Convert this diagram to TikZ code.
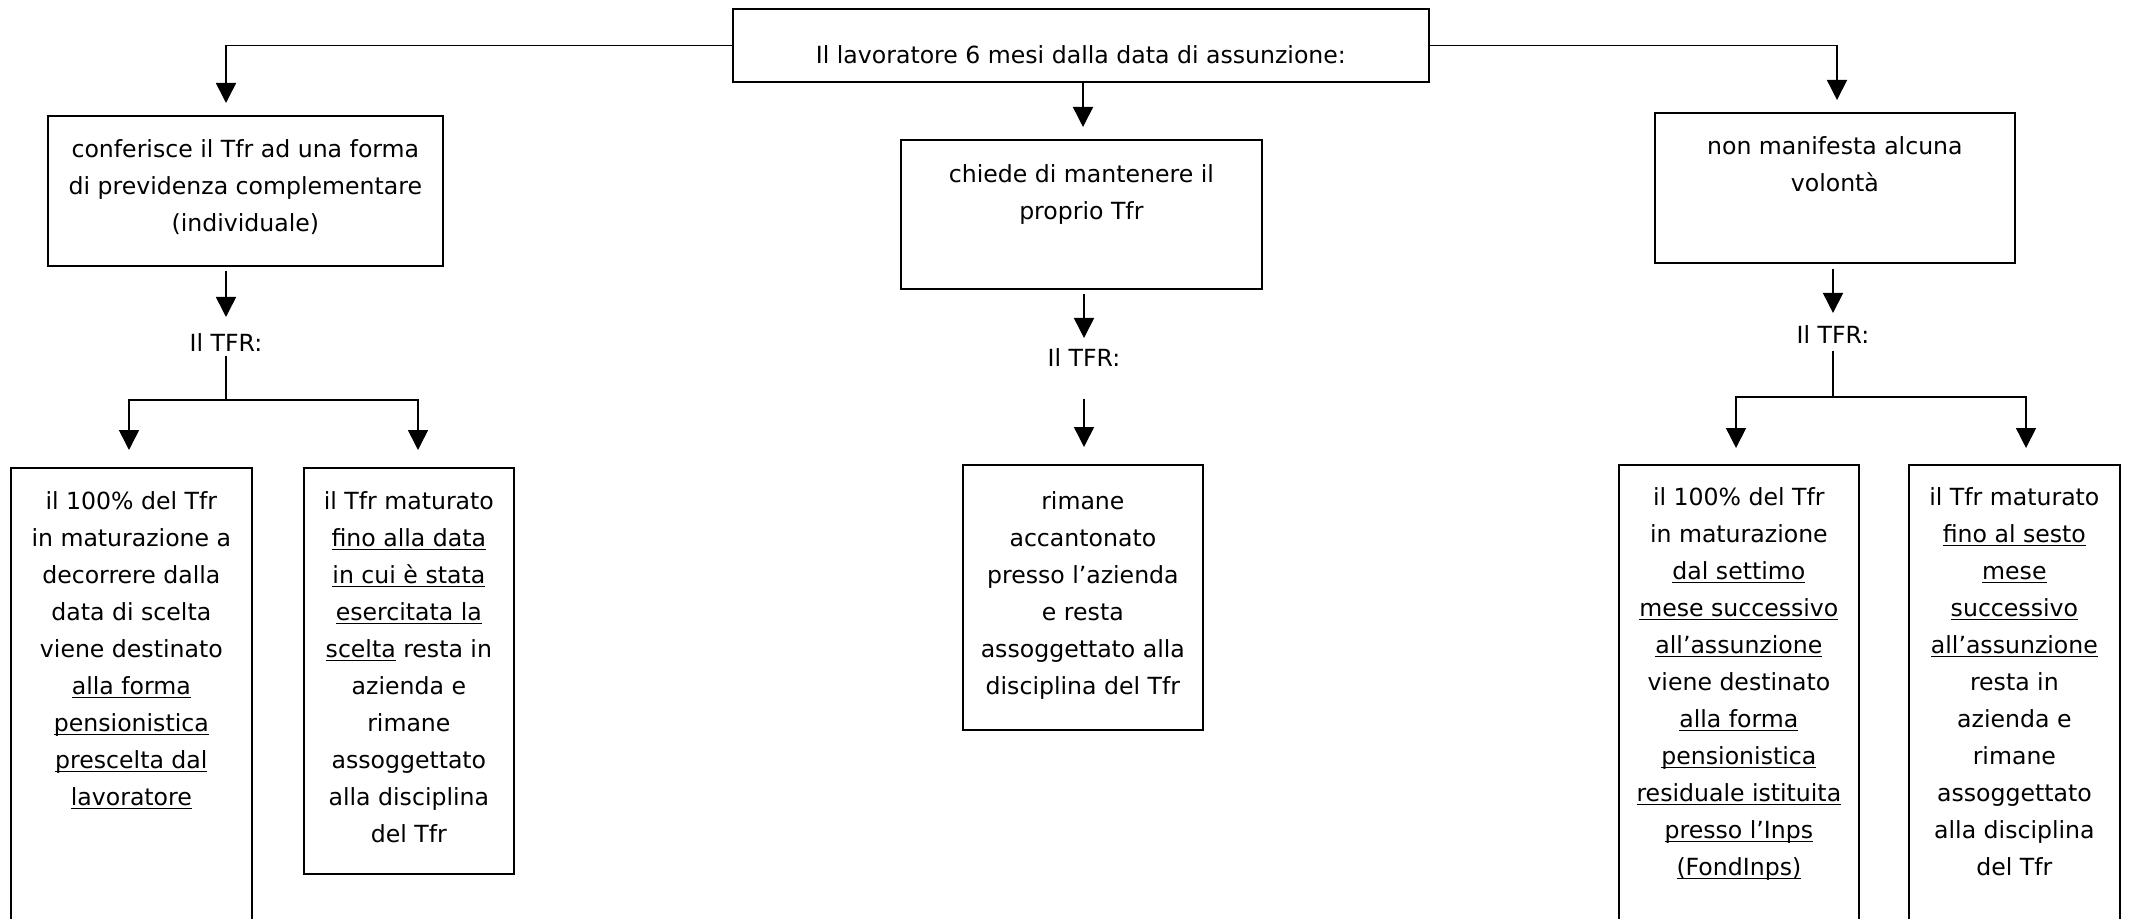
\documentclass[tikz,border=0pt]{standalone}
\usepackage{fontspec}
\setmainfont{DejaVu Sans}
\usetikzlibrary{arrows.meta}
\newcommand{\myul}[1]{\leavevmode\setbox0\hbox{#1}\rlap{\rule[-1.8pt]{\wd0}{0.65pt}}\box0\relax}
\newcommand{\mybox}[4]{\parbox[t][#2][t]{#1}{\centering\rule{0pt}{#3}#4\par}}
\tikzset{
  every node/.style={font=\fontsize{11.8}{18.5}\selectfont},
  bx/.style={draw, line width=0.85pt, inner sep=0pt, anchor=north west},
  lbl/.style={inner sep=0pt},
  arr/.style={line width=0.8pt, -{Triangle[length=10pt,width=10pt]}},
  ln/.style={line width=0.8pt}
}
\begin{document}
\begin{tikzpicture}[x=0.5pt,y=-0.5pt]
\useasboundingbox[fill=white] (0,0) rectangle (2129,919);
% top
\node[bx] (T) at (732,8) {\mybox{348pt}{36.5pt}{27.5pt}{Il lavoratore 6 mesi dalla data di assunzione:}};
% level 1
\node[bx] (L1) at (47,115) {\mybox{197.5pt}{75pt}{20.75pt}{conferisce il Tfr ad una forma\\di previdenza complementare\\(individuale)}};
\node[bx] (M1) at (900,139) {\mybox{180.5pt}{74.5pt}{21.25pt}{chiede di mantenere il\\proprio Tfr}};
\node[bx] (R1) at (1654,112) {\mybox{180pt}{75pt}{20.75pt}{non manifesta alcuna\\volontà}};
% labels
\node[lbl] (tfrL) at (226,343) {Il TFR:};
\node[lbl] (tfrM) at (1084,358) {Il TFR:};
\node[lbl] (tfrR) at (1833,335) {Il TFR:};
% level 2
\node[bx] (A) at (10,467) {\mybox{120.5pt}{250pt}{20.75pt}{il 100\% del Tfr\\in maturazione a\\decorrere dalla\\data di scelta\\viene destinato\\\myul{alla forma}\\\myul{pensionistica}\\\myul{prescelta dal}\\\myul{lavoratore}}};
\node[bx] (B) at (303,467) {\mybox{105pt}{203pt}{20.75pt}{il Tfr maturato\\\myul{fino alla data}\\\myul{in cui è stata}\\\myul{esercitata la}\\\myul{scelta} resta in\\azienda e\\rimane\\assoggettato\\alla disciplina\\del Tfr}};
\node[bx] (M2) at (962,464) {\mybox{120pt}{132.5pt}{22.25pt}{rimane\\accantonato\\presso l’azienda\\e resta\\assoggettato alla\\disciplina del Tfr}};
\node[bx] (C) at (1618,464) {\mybox{120pt}{250pt}{20.25pt}{il 100\% del Tfr\\in maturazione\\\myul{dal settimo}\\\myul{mese successivo}\\\myul{all’assunzione}\\viene destinato\\\myul{alla forma}\\\myul{pensionistica}\\\myul{residuale istituita}\\\myul{presso l’Inps}\\\myul{(FondInps)}}};
\node[bx] (D) at (1908,464) {\mybox{105.5pt}{250pt}{20.25pt}{il Tfr maturato\\\myul{fino al sesto}\\\myul{mese}\\\myul{successivo}\\\myul{all’assunzione}\\resta in\\azienda e\\rimane\\assoggettato\\alla disciplina\\del Tfr}};
% coordinates
\coordinate (aL1) at (226,103);
\coordinate (aM1) at (1083,127);
\coordinate (aR1) at (1837,100);
\coordinate (aL2) at (226,317);
\coordinate (aM2) at (1084,338);
\coordinate (aR2) at (1833,313);
\coordinate (bL) at (226,400);
\coordinate (bR) at (1833,397);
\coordinate (aA) at (129,450);
\coordinate (aB) at (418,450);
\coordinate (aM3) at (1084,447);
\coordinate (aC) at (1736,448);
\coordinate (aD) at (2026,448);
% connectors
\draw[arr] (T.west) -| (aL1);
\draw[arr] (T.east) -| (aR1);
\draw[arr] (T.south -| aM1) -- (aM1);
\draw[arr, shorten <=2pt] (L1.south -| aL2) -- (aL2);
\draw[arr, shorten <=2pt] (M1.south -| aM2) -- (aM2);
\draw[arr, shorten <=2.5pt] (R1.south -| aR2) -- (aR2);
\draw[ln, shorten <=1.7pt] (tfrL.south) -- (bL);
\draw[arr] (bL) -| (aA);
\draw[arr] (bL) -| (aB);
\draw[arr, shorten <=15.7pt] (tfrM.south) -- (aM3);
\draw[ln, shorten <=3.2pt] (tfrR.south) -- (bR);
\draw[arr] (bR) -| (aC);
\draw[arr] (bR) -| (aD);
\end{tikzpicture}
\end{document}
